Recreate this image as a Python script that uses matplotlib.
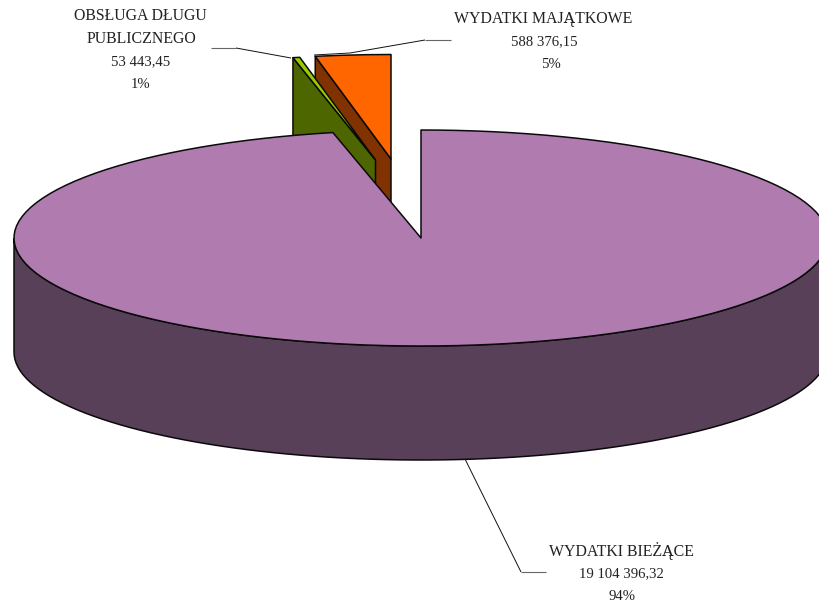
import numpy as np
import matplotlib
matplotlib.use("Agg")
import matplotlib.pyplot as plt

categories = ["WYDATKI BIEŻĄCE", "OBSŁUGA DŁUGU\nPUBLICZNEGO", "WYDATKI MAJĄTKOWE"]
values = [19104396.32, 53443.45, 588376.15]
value_labels = ["19 104 396,32", "53 443,45", "588 376,15"]
percent_labels = ["94%", "1%", "5%"]

top_colors = ["#B07CB0", "#99CC00", "#FF6600"]
side_colors = ["#594059", "#4D6600", "#803300"]

CX, CY, RX, RY, DEPTH = 421, 238, 407, 108, 114
RY_EXPLODED = 104.5
offsets = [(0, 0), (-45.5, -78), (-30, -79)]
EDGE = "#0A0A0A"
LW = 1.1
TXT = "#222222"

fig = plt.figure(figsize=(8.19, 6.05), dpi=100)
ax = fig.add_axes([0, 0, 1, 1])
ax.set_xlim(0, 819)
ax.set_ylim(605, 0)
ax.axis("off")


def ell(t, dx=0, dy=0, ry=RY):
    return CX + dx + RX * np.sin(t), CY + dy - ry * np.cos(t)


fracs = np.array(values) / sum(values)
# angles run clockwise from 12 o'clock: big slice, then debt service, then investment
ends = 2 * np.pi * np.cumsum(fracs)
starts = np.r_[0, ends[:-1]]
big_end = ends[0] - np.radians(0.8)


def slice_top(i, end=None, ry=RY):
    a, b = starts[i], ends[i] if end is None else end
    dx, dy = offsets[i]
    t = np.linspace(a, b, max(4, int((b - a) / np.radians(2.5))))
    x, y = ell(t, dx, dy, ry)
    return np.r_[CX + dx, x], np.r_[CY + dy, y]


def face(i):
    dx, dy = offsets[i]
    x, y = ell(starts[i], dx, dy, RY_EXPLODED)
    ax_, ay_ = CX + dx, CY + dy
    return [x, ax_, ax_, x], [y, ay_, ay_ + DEPTH, y + DEPTH]


for i in (2, 1):
    fx, fy = face(i)
    ax.fill(fx, fy, fc=side_colors[i], ec=EDGE, lw=LW, joinstyle="round")
    tx, ty = slice_top(i, ry=RY_EXPLODED)
    ax.fill(tx, ty, fc=top_colors[i], ec=EDGE, lw=LW, joinstyle="round")

# front wall of the large slice
t = np.linspace(np.pi / 2, 3 * np.pi / 2, 90)
x, y = ell(t)
ax.fill(np.r_[x, x[::-1]], np.r_[y, (y + DEPTH)[::-1]], fc=side_colors[0], ec=EDGE, lw=LW)
tx, ty = slice_top(0, big_end)
ax.fill(tx, ty, fc=top_colors[0], ec=EDGE, lw=LW, joinstyle="round")

# leader lines
leaders = [
    ([465, 521], [459, 572], [521, 546], [572, 572]),
    ([236, 291], [48, 58], [211, 236], [48, 48]),
    ([314, 350, 425], [55, 53, 40], [425, 451], [40, 40]),
]
for lx, ly, hx, hy in leaders:
    ax.plot(lx, ly, color="#111111", lw=0.7, solid_capstyle="butt")
    ax.plot(hx, hy, color="#666666", lw=0.8, solid_capstyle="butt")

# labels: (centre x per row, y per row)
label_pos = [
    ([621, 621.5, 622], [551, 574, 596]),
    ([140, 141, 141, 141], [16, 39, 62, 84]),
    ([543, 544, 551], [19, 42, 64]),
]
for i, (xs, ys) in enumerate(label_pos):
    caps = categories[i].split("\n")
    lines = caps + [value_labels[i], percent_labels[i]]
    for j, (s, lx, ly) in enumerate(zip(lines, xs, ys)):
        ax.text(lx, ly, s, ha="center", va="center", family="Liberation Serif",
                fontsize=11.4 if j < len(caps) else 10.6, color=TXT)

fig.savefig("out.png", dpi=100)
